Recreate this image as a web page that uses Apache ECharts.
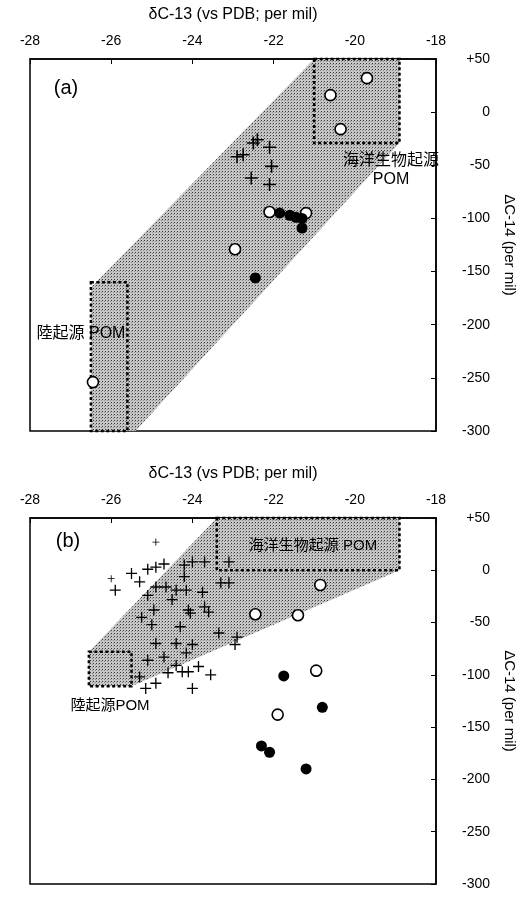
<!DOCTYPE html>
<html>
<head>
<meta charset="utf-8">
<script src="https://cdn.jsdelivr.net/npm/echarts@6/dist/echarts.min.js"></script>
<style>
  html, body { margin: 0; padding: 0; background: #fff; }
  #chart { width: 525px; height: 897px; }
</style>
</head>
<body>
<div id="chart"></div>
<script>
// ---- panel (a) ----
var bandA = [[-21, 50], [-18.9, 50], [-18.9, -29], [-25.4, -300], [-26.5, -300], [-26.5, -165]];
var marineBoxA = [[-21, 50], [-18.9, 50], [-18.9, -29], [-21, -29]];
var terrBoxA = [[-26.5, -160], [-25.6, -160], [-25.6, -300], [-26.5, -300]];
var plusA = [[-22.4, -26], [-22.5, -29], [-22.1, -33], [-22.75, -40], [-22.9, -42],
             [-22.05, -51], [-22.55, -62], [-22.1, -68]];
var openA = [[-19.7, 32], [-20.6, 16], [-20.35, -16], [-22.1, -94], [-21.2, -95],
             [-22.95, -129], [-26.45, -254]];
var filledA = [[-21.85, -95], [-21.6, -97], [-21.45, -99], [-21.3, -100], [-21.3, -109],
               [-22.45, -156]];

// ---- panel (b) ----
var bandB = [[-23.4, 50], [-18.9, 50], [-18.9, 0], [-25.5, -111], [-26.55, -111], [-26.55, -78]];
var marineBoxB = [[-23.4, 50], [-18.9, 50], [-18.9, 0], [-23.4, 0]];
var terrBoxB = [[-26.55, -78], [-25.5, -78], [-25.5, -111], [-26.55, -111]];
var plusB = [[-25.9, -19], [-25.5, -3], [-25.1, 1], [-24.9, 3], [-24.7, 6], [-24.2, 5],
             [-24.0, 8], [-23.7, 8], [-24.2, -6], [-23.1, 8], [-25.3, -11], [-24.9, -16],
             [-24.65, -16], [-24.4, -19], [-24.15, -19], [-25.1, -24], [-23.75, -21],
             [-24.5, -28], [-23.3, -12], [-23.1, -12], [-24.95, -38], [-24.1, -38],
             [-24.05, -41], [-23.7, -35], [-23.6, -40], [-25.25, -45], [-25.0, -52],
             [-24.3, -54], [-23.35, -60], [-22.9, -64], [-22.95, -71], [-24.9, -70],
             [-24.4, -70], [-24.0, -71], [-24.7, -83], [-24.15, -79], [-25.1, -86],
             [-24.4, -91], [-24.6, -98], [-24.25, -97], [-24.1, -97], [-23.85, -92],
             [-23.55, -100], [-25.3, -102], [-25.15, -113], [-24.0, -113], [-24.9, -108]];
var plusBSmall = [[-24.9, 27], [-26.0, -8]];
var openB = [[-20.85, -14], [-22.45, -42], [-21.4, -43], [-20.95, -96], [-21.9, -138]];
var filledB = [[-21.75, -101], [-20.8, -131], [-22.3, -168], [-22.1, -174], [-21.2, -190]];

var xTicks = { min: -28, max: -18, step: 2 };
var yTicks = { min: -300, max: 50, step: 50 };

var FONT = '"Liberation Sans", "Noto Sans CJK JP", sans-serif';
var PLUS = 'path://M4.4,0H5.6V4.4H10V5.6H5.6V10H4.4V5.6H0V4.4H4.4Z';

// stippled grey fill
var pat = document.createElement('canvas');
pat.width = 3; pat.height = 3;
var pc = pat.getContext('2d');
pc.fillStyle = '#c6c6c6'; pc.fillRect(0, 0, 3, 3);
pc.fillStyle = '#3a3a3a'; pc.fillRect(0, 0, 1, 1);
pc.fillStyle = '#8a8a8a'; pc.fillRect(2, 1, 1, 1);
var stipple = { image: pat, repeat: 'repeat' };

function polySeries(idx, pts, style, z) {
  return {
    type: 'custom', xAxisIndex: idx, yAxisIndex: idx, silent: true, z: z,
    data: [pts[0]],
    renderItem: function (params, api) {
      return { type: 'polygon', shape: { points: pts.map(function (p) { return api.coord(p); }) }, style: style };
    }
  };
}

var dashStyle = { fill: 'none', stroke: '#000', lineWidth: 2.5, lineDash: [3, 2.5] };

function scatter(idx, data, kind, size) {
  var s = { type: 'scatter', xAxisIndex: idx, yAxisIndex: idx, data: data, z: 5, silent: true };
  if (kind === 'plus') {
    s.symbol = PLUS; s.symbolSize = size; s.itemStyle = { color: '#000', opacity: 1 };
  } else if (kind === 'open') {
    s.symbol = 'circle'; s.symbolSize = size;
    s.itemStyle = { color: '#fff', borderColor: '#000', borderWidth: 1.6, opacity: 1 };
  } else {
    s.symbol = 'circle'; s.symbolSize = size; s.itemStyle = { color: '#000', opacity: 1 };
  }
  return s;
}

function xAxis(idx) {
  return {
    gridIndex: idx, type: 'value', position: 'top',
    min: xTicks.min, max: xTicks.max, interval: xTicks.step,
    name: 'δC-13 (vs PDB; per mil)', nameLocation: 'middle', nameGap: 36,
    nameTextStyle: { fontFamily: FONT, fontSize: 16, color: '#000' },
    axisLine: { show: true, onZero: false, lineStyle: { color: '#000', width: 1.5 } },
    axisTick: { show: true, inside: true, length: 5, lineStyle: { color: '#000' } },
    axisLabel: { fontFamily: FONT, fontSize: 14, color: '#000', margin: 11 },
    splitLine: { show: false }
  };
}

function yAxis(idx) {
  return {
    gridIndex: idx, type: 'value', position: 'right',
    min: yTicks.min, max: yTicks.max, interval: yTicks.step,
    name: 'ΔC-14 (per mil)', nameLocation: 'middle', nameGap: 66, nameRotate: -90,
    nameTextStyle: { fontFamily: FONT, fontSize: 15, color: '#000' },
    axisLine: { show: true, onZero: false, lineStyle: { color: '#000', width: 1.5 } },
    axisTick: { show: true, inside: true, length: 5, lineStyle: { color: '#000' } },
    axisLabel: {
      fontFamily: FONT, fontSize: 14, color: '#000', margin: 54, align: 'right',
      padding: [7, 0, 0, 0],
      formatter: function (v) { return v > 0 ? '+' + v : String(v); }
    },
    splitLine: { show: false }
  };
}

function txt(x, y, text, size, align) {
  return {
    type: 'text', x: x, y: y, z: 20, silent: true,
    style: { text: text, fill: '#000', font: size + 'px ' + FONT,
             textAlign: align || 'center', textVerticalAlign: 'middle',
             align: align || 'center', verticalAlign: 'middle', lineHeight: 19 }
  };
}

var chart = echarts.init(document.getElementById('chart'), null, { renderer: 'canvas' });
chart.setOption({
  backgroundColor: '#fff',
  animation: false,
  grid: [
    { left: 30, right: 85, top: 59, height: 372, show: true, borderColor: '#000', borderWidth: 1.5, backgroundColor: 'transparent' },
    { left: 30, right: 85, top: 518, height: 366, show: true, borderColor: '#000', borderWidth: 1.5, backgroundColor: 'transparent' }
  ],
  xAxis: [xAxis(0), xAxis(1)],
  yAxis: [yAxis(0), yAxis(1)],
  series: [
    polySeries(0, bandA, { fill: stipple, stroke: 'none' }, 1),
    polySeries(0, marineBoxA, dashStyle, 2),
    polySeries(0, terrBoxA, dashStyle, 2),
    scatter(0, plusA, 'plus', 13),
    scatter(0, openA, 'open', 11),
    scatter(0, filledA, 'filled', 11),
    polySeries(1, bandB, { fill: stipple, stroke: 'none' }, 1),
    polySeries(1, marineBoxB, dashStyle, 2),
    polySeries(1, terrBoxB, dashStyle, 2),
    scatter(1, plusB, 'plus', 11),
    scatter(1, plusBSmall, 'plus', 7),
    scatter(1, openB, 'open', 11),
    scatter(1, filledB, 'filled', 11)
  ],
  graphic: [
    txt(66, 88, '(a)', 20),
    txt(391, 170, '海洋生物起源\nPOM', 16),
    txt(81, 334, '陸起源 POM', 16),
    txt(68, 541, '(b)', 20),
    txt(313, 546, '海洋生物起源 POM', 15),
    txt(110, 706, '陸起源POM', 15)
  ]
});
</script>
</body>
</html>
